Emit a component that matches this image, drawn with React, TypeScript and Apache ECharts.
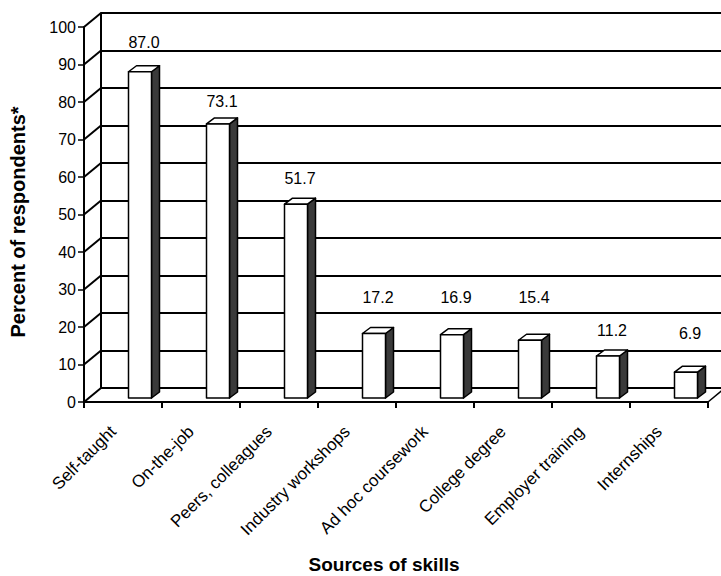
import React, { useEffect, useRef } from "react";
import * as echarts from "echarts";

// Sources of skills and share of respondents citing each one
const categories = [
  "Self-taught",
  "On-the-job",
  "Peers, colleagues",
  "Industry workshops",
  "Ad hoc coursework",
  "College degree",
  "Employer training",
  "Internships",
];
const percents = [87.0, 73.1, 51.7, 17.2, 16.9, 15.4, 11.2, 6.9];
const yTicks = [0, 10, 20, 30, 40, 50, 60, 70, 80, 90, 100];

// Height (px) of each value label above its bar's front face
const labelLift = [29, 22, 26, 36, 37, 43, 26, 39];

// Oblique 3D projection of the back wall and the bars
const WALL_DX = 17;
const WALL_DY = 14;
const BAR_SHIFT_X = 17;
const BAR_SHIFT_Y = 4;
const BAR_W = 23;
const DEPTH_DX = 8;
const DEPTH_DY = 6;

const FONT = "'Liberation Sans', Arial, Helvetica, sans-serif";

export default function App() {
  const ref = useRef<HTMLDivElement>(null);

  useEffect(() => {
    if (!ref.current) return;
    const chart = echarts.init(ref.current, null, { renderer: "svg" });

    const gridLeft = 84;
    const gridTop = 27;
    const gridW = 624;
    const gridH = 375;

    const option: any = {
      animation: false,
      backgroundColor: "#fff",
      grid: [
        { left: gridLeft, top: gridTop, width: gridW, height: gridH },
        { left: gridLeft + WALL_DX, top: gridTop - WALL_DY, width: 660, height: gridH },
      ],
      xAxis: [
        {
          type: "category",
          gridIndex: 0,
          data: categories,
          boundaryGap: true,
          axisLine: { show: true, lineStyle: { color: "#000", width: 2 } },
          axisTick: { show: true, length: 6, lineStyle: { color: "#000", width: 2 } },
          axisLabel: {
            interval: 0,
            rotate: 45,
            margin: 17,
            padding: [0, 14, 0, 0],
            color: "#000",
            fontSize: 17,
            fontFamily: FONT,
          },
          splitLine: { show: false },
        },
        { type: "category", gridIndex: 1, data: categories, show: false },
      ],
      yAxis: [
        {
          type: "value",
          gridIndex: 0,
          min: 0,
          max: 100,
          interval: 10,
          axisLine: { show: true, lineStyle: { color: "#000", width: 2 } },
          axisTick: { show: true, length: 6, lineStyle: { color: "#000", width: 1.5 } },
          axisLabel: { margin: 8, color: "#000", fontSize: 16, fontFamily: FONT },
          splitLine: { show: false },
        },
        {
          type: "value",
          gridIndex: 1,
          min: 0,
          max: 100,
          interval: 10,
          axisLine: { show: true, lineStyle: { color: "#000", width: 2 } },
          axisTick: { show: false },
          axisLabel: { show: false },
          splitLine: { show: true, lineStyle: { color: "#000", width: 2 } },
        },
      ],
      series: [
        {
          // left side wall diagonals and the right floor edge
          type: "custom",
          xAxisIndex: 0,
          yAxisIndex: 0,
          z: 1,
          silent: true,
          data: yTicks.map((t) => [0, t]),
          renderItem: (params: any, api: any) => {
            const t = api.value(1);
            const p = api.coord([0, t]);
            const cs = params.coordSys;
            const children: any[] = [
              {
                type: "line",
                shape: { x1: cs.x, y1: p[1], x2: cs.x + WALL_DX, y2: p[1] - WALL_DY },
                style: { stroke: "#000", lineWidth: 2 },
              },
            ];
            if (t === 0) {
              const r = cs.x + cs.width;
              children.push({
                type: "line",
                shape: { x1: r, y1: p[1], x2: r + WALL_DX, y2: p[1] - WALL_DY },
                style: { stroke: "#000", lineWidth: 1.5 },
              });
            }
            return { type: "group", children };
          },
        },
        {
          // 3D bars with value labels
          type: "custom",
          xAxisIndex: 0,
          yAxisIndex: 0,
          z: 5,
          data: percents.map((v, i) => [i, v]),
          renderItem: (params: any, api: any) => {
            const i = api.value(0);
            const v = api.value(1);
            const base = api.coord([i, 0]);
            const top = api.coord([i, v]);
            const x0 = base[0] + BAR_SHIFT_X - BAR_W / 2;
            const x1 = x0 + BAR_W;
            const yb = base[1] - BAR_SHIFT_Y;
            const yt = top[1] - BAR_SHIFT_Y;
            const edge = { stroke: "#000", lineWidth: 1.5, lineJoin: "round" };
            return {
              type: "group",
              children: [
                {
                  type: "polygon",
                  shape: {
                    points: [
                      [x1, yt],
                      [x1 + DEPTH_DX, yt - DEPTH_DY],
                      [x1 + DEPTH_DX, yb - DEPTH_DY],
                      [x1, yb],
                    ],
                  },
                  style: { fill: "#3a3a3a", ...edge },
                },
                {
                  type: "polygon",
                  shape: {
                    points: [
                      [x0, yt],
                      [x0 + DEPTH_DX, yt - DEPTH_DY],
                      [x1 + DEPTH_DX, yt - DEPTH_DY],
                      [x1, yt],
                    ],
                  },
                  style: { fill: "#fff", ...edge },
                },
                {
                  type: "rect",
                  shape: { x: x0, y: yt, width: BAR_W, height: yb - yt },
                  style: { fill: "#fff", ...edge },
                },
                {
                  type: "text",
                  x: (x0 + x1 + DEPTH_DX) / 2,
                  y: yt - labelLift[i],
                  style: {
                    text: v.toFixed(1),
                    fill: "#000",
                    font: `16px ${FONT}`,
                    align: "center",
                    verticalAlign: "middle",
                  },
                },
              ],
            };
          },
        },
      ],
      graphic: [
        {
          type: "text",
          x: 18,
          y: 222,
          rotation: Math.PI / 2,
          style: {
            text: "Percent of respondents*",
            fill: "#000",
            font: `bold 20px ${FONT}`,
            align: "center",
            verticalAlign: "middle",
          },
        },
        {
          type: "text",
          x: 384,
          y: 564,
          style: {
            text: "Sources of skills",
            fill: "#000",
            font: `bold 19px ${FONT}`,
            align: "center",
            verticalAlign: "middle",
          },
        },
      ],
    };

    chart.setOption(option);
    return () => chart.dispose();
  }, []);

  return (
    <div
      ref={ref}
      style={{ position: "fixed", left: 0, top: 0, width: 721, height: 576, background: "#fff" }}
    />
  );
}
